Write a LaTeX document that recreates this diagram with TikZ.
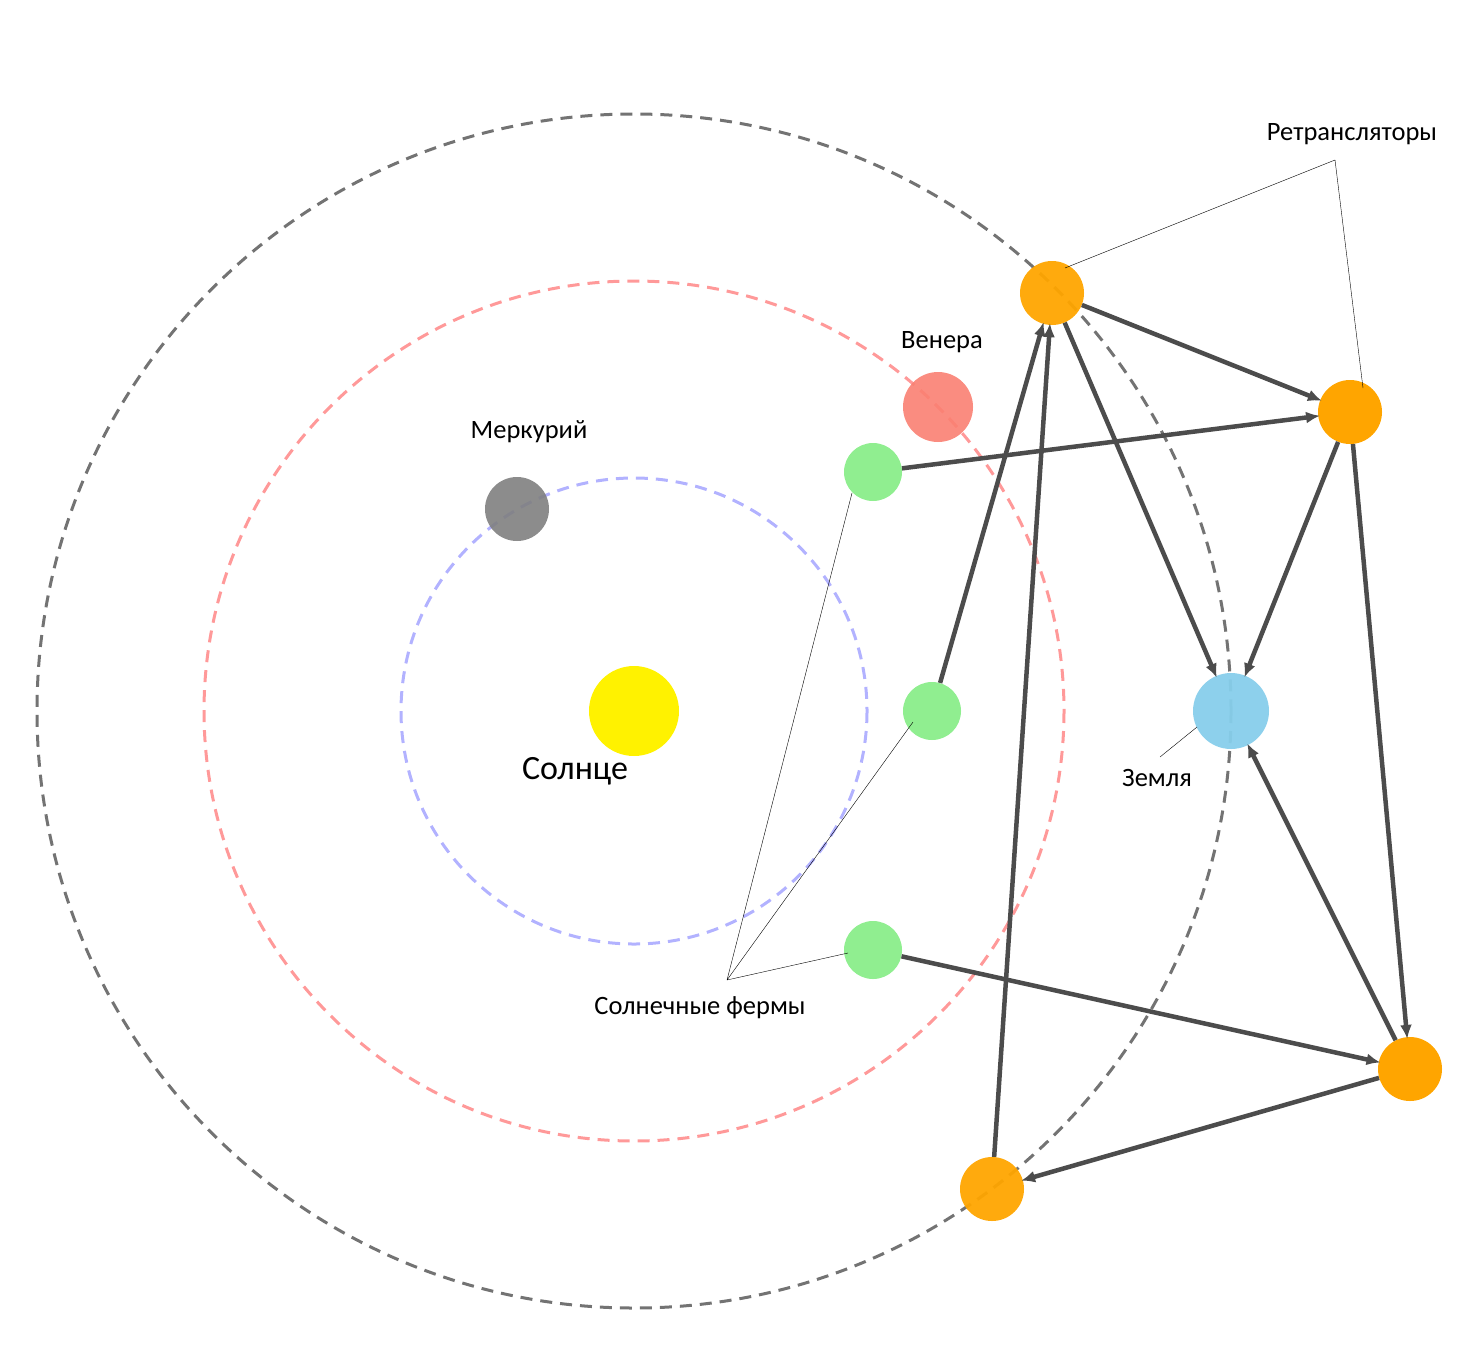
\documentclass[tikz,border=0pt]{standalone}
\usepackage{fontspec}
\setmainfont{Carlito}
\usetikzlibrary{arrows.meta,positioning}
\definecolor{relayc}{HTML}{FFA500}
\definecolor{farmc}{HTML}{90EE90}
\definecolor{earthc}{HTML}{87CEEB}
\definecolor{venusc}{HTML}{FA8072}
\tikzset{
  orbit/.style={dashed,line width=3pt,dash pattern=on 12pt off 8pt},
  body/.style={circle,inner sep=0pt,draw=none},
  relay/.style={body,fill=relayc,minimum size=64pt},
  farm/.style={body,fill=farmc,minimum size=58pt},
  link/.style={line width=4.5pt,black!70,-{Latex[length=14pt,width=12pt]},shorten >=-2pt},
  lbl/.style={font=\fontsize{26.5}{30}\selectfont},
  pointer/.style={thin,black}
}
\begin{document}
\begin{tikzpicture}[x=1pt,y=-1pt]
\useasboundingbox (0,0) rectangle (1479,1357);

% orbits
\draw[orbit,blue!30] (634,711) circle (233);
\draw[orbit,red!40] (634,711) circle (430);
\draw[orbit,black!55] (634,711) circle (597);

% bodies
\node[body,fill=yellow,minimum size=90pt] (sun) at (634,711) {};
\node[body,fill=black!50,opacity=0.9,minimum size=64pt] (mercury) at (517,509) {};
\node[body,fill=venusc,opacity=0.9,minimum size=70pt] (venus) at (938,407) {};
\node[body,fill=earthc,opacity=0.95,minimum size=76pt] (earth) at (1231,711) {};

% farms
\node[farm] (f1) at (873,472) {};
\node[farm] (f2) at (932,711) {};
\node[farm] (f3) at (873,950) {};

% relays
\node[relay,opacity=0.95] (r1) at (1052,293) {};
\node[relay] (r2) at (1350,412) {};
\node[relay] (r3) at (1410,1069) {};
\node[relay,opacity=0.95] (r4) at (992,1189) {};

% links
\draw[link] (r1) -- (r2);
\draw[link] (f1) -- (r2);
\draw[link] (f2) -- (r1);
\draw[link] (r4) -- (r1);
\draw[link] (r1) -- (earth);
\draw[link] (r2) -- (earth);
\draw[link] (r2) -- (r3);
\draw[link] (r3) -- (earth);
\draw[link] (f3) -- (r3);
\draw[link] (r3) -- (r4);

% labels
\node[lbl] (tRelay) at (1352,134) {Ретрансляторы};
\node[lbl] (tVenus) at (942,342) {Венера};
\node[lbl] (tMerc) at (529,432) {Меркурий};
\node[font=\fontsize{34}{38}\selectfont] (tSun) at (575,771) {Солнце};
\node[lbl] (tEarth) at (1157,778) {Земля};
\node[lbl] (tFarm) at (700,1008) {Солнечные фермы};

% pointers
\coordinate (pR) at (1335,160);
\draw[pointer] (pR) -- (1065,268) (pR) -- (1363,388);
\draw[pointer] (1160,757) -- (1197,727);
\coordinate (pF) at (727,980);
\draw[pointer] (pF) -- (852,493) (pF) -- (913,722) (pF) -- (848,953);
\end{tikzpicture}
\end{document}
